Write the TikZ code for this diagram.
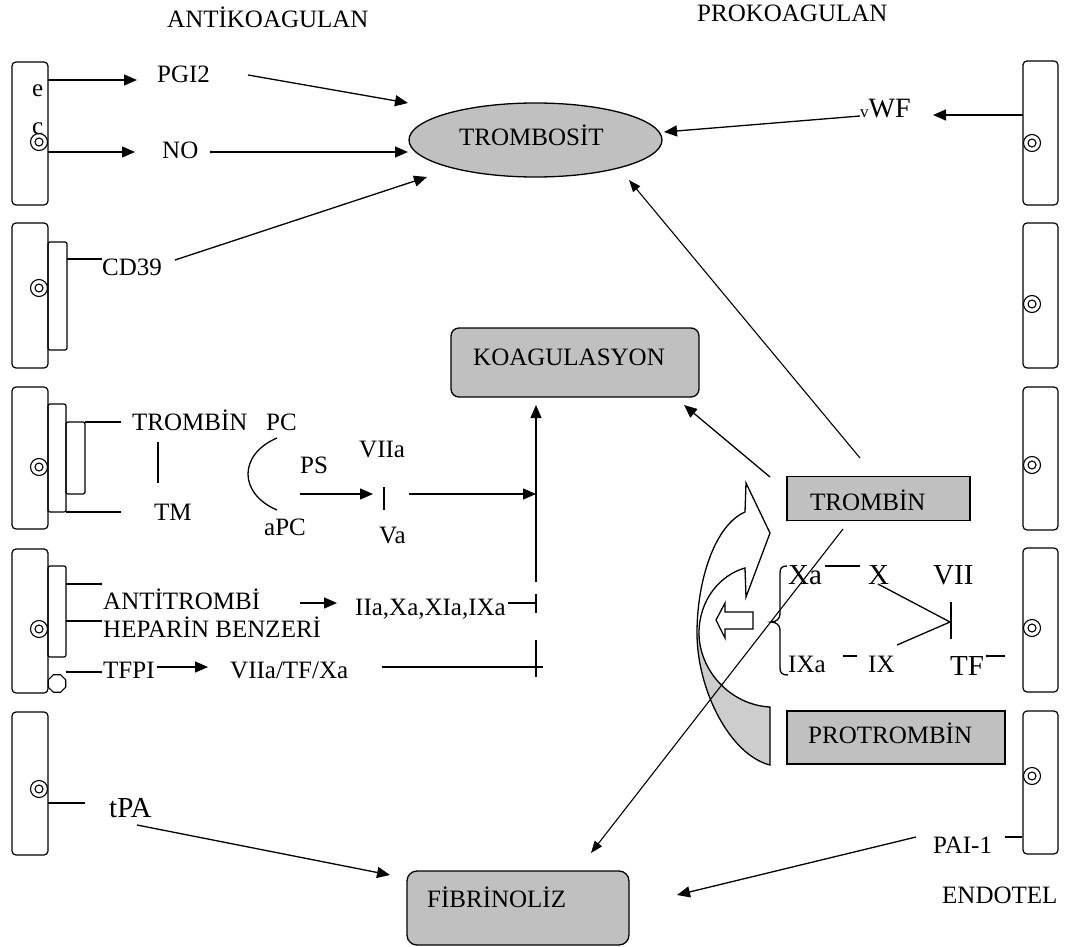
\documentclass[tikz,border=0pt]{standalone}
\usepackage{fontspec}
\setmainfont{Liberation Serif}
\usetikzlibrary{arrows.meta,shapes.geometric}
\definecolor{boxgray}{HTML}{C0C0C0}
\definecolor{ribbon}{HTML}{CDCDCD}
\begin{document}
\begin{tikzpicture}[x=1pt,y=-1pt,
  cell/.style={draw, line width=1.2pt, rounded corners=4pt, inner sep=0pt, minimum width=36pt},
  inrect/.style={draw, line width=1.2pt, rounded corners=2pt, inner sep=0pt},
  gbox/.style={draw, fill=boxgray, line width=1.3pt, inner sep=0pt},
  lbl/.style={inner sep=0pt, anchor=base west, font=\fontsize{25}{30}\selectfont},
  big/.style={inner sep=0pt, anchor=base west, font=\fontsize{29}{34}\selectfont},
  ln/.style={line width=1.3pt},
  arr/.style={line width=1.3pt, -{Triangle[length=13pt,width=11pt]}},
  tarr/.style={line width=1.1pt, -{Triangle[length=12pt,width=9pt]}},
  dco/.style={draw, circle, line width=1.1pt, minimum size=17pt, inner sep=0pt, fill=white},
  dci/.style={draw, circle, line width=1.1pt, minimum size=8pt, inner sep=0pt},
]
\useasboundingbox (0,0) rectangle (1071,947);

% ---------- curved ribbon arrow ----------
\fill[ribbon] (697,633) .. controls (697,690) and (730,755) .. (770,765) -- (770,707)
  .. controls (730,705) and (699,670) .. (699,633) -- cycle;
\draw[ln] (745,512) .. controls (715,525) and (697,580) .. (697,633)
  .. controls (697,690) and (730,755) .. (770,765) -- (770,707)
  .. controls (730,705) and (699,670) .. (699,633)
  .. controls (699,600) and (720,575) .. (745,568)
  -- (746,597) -- (770,533) -- (746,483) -- cycle;
\draw[ln, fill=white] (716,620) -- (725,603) -- (725,612) -- (753,612) -- (753,629)
  -- (725,629) -- (725,638) -- cycle;

% ---------- endothelial cells, left ----------
\node[cell, minimum height=143pt] (L1) at (30,133.5) {};
\node[cell, minimum height=145pt] (L2) at (30,295.5) {};
\node[cell, minimum height=142pt] (L3) at (30,458) {};
\node[cell, minimum height=144pt] (L4) at (30,621) {};
\node[cell, minimum height=143pt] (L5) at (30,783.5) {};
\node[inrect, minimum width=19pt, minimum height=108pt] (L2a) at (57.5,296) {};
\node[inrect, minimum width=18pt, minimum height=108pt] (L3a) at (57,458) {};
\node[inrect, minimum width=19pt, minimum height=72pt] (L3b) at (75.5,458) {};
\node[inrect, minimum width=18pt, minimum height=91pt] (L4a) at (57,611.5) {};
\node[draw, regular polygon, regular polygon sides=8, minimum size=19pt, inner sep=0pt,
  line width=1.1pt, fill=white] (oct) at (57,683.5) {};
\node[dco] (dl1) at (39,142) {}; \node[dci] at (dl1) {};
\node[dco] (dl2) at (39,288) {}; \node[dci] at (dl2) {};
\node[dco] (dl3) at (39,467) {}; \node[dci] at (dl3) {};
\node[dco] (dl4) at (39,629) {}; \node[dci] at (dl4) {};
\node[dco] (dl5) at (39,789) {}; \node[dci] at (dl5) {};

% ---------- endothelial cells, right ----------
\node[cell, minimum width=35pt, minimum height=144pt] (R1) at (1040.5,133) {};
\node[cell, minimum width=35pt, minimum height=145pt] (R2) at (1040.5,295.5) {};
\node[cell, minimum width=35pt, minimum height=143pt] (R3) at (1040.5,458.5) {};
\node[cell, minimum width=35pt, minimum height=144pt] (R4) at (1040.5,620) {};
\node[cell, minimum width=35pt, minimum height=143pt] (R5) at (1040.5,782.5) {};
\node[dco] (dr1) at (1032,143) {}; \node[dci] at (dr1) {};
\node[dco] (dr2) at (1032,304) {}; \node[dci] at (dr2) {};
\node[dco] (dr3) at (1032,465) {}; \node[dci] at (dr3) {};
\node[dco] (dr4) at (1032,628) {}; \node[dci] at (dr4) {};
\node[dco] (dr5) at (1032,776) {}; \node[dci] at (dr5) {};

% ---------- main boxes ----------
\node[gbox, ellipse, minimum width=253pt, minimum height=74pt] (trombosit) at (535.5,140) {};
\node[gbox, rounded corners=8pt, minimum width=248pt, minimum height=69pt] (koag) at (575,362.5) {};
\node[gbox, minimum width=183pt, minimum height=44pt] (trombin) at (878.5,498.5) {};
\node[gbox, minimum width=218pt, minimum height=53pt] (protrombin) at (896,737.5) {};
\node[gbox, rounded corners=10pt, minimum width=222pt, minimum height=74pt] (fibrinoliz) at (518,908) {};

% ---------- texts ----------
\node[lbl] (tAnti) at (167,28) {ANTİKOAGULAN};
\node[lbl] (tPro) at (697,22) {PROKOAGULAN};
\node[lbl] (tE) at (32,97) {e};
\node[lbl] (tC) at (32,135) {c};
\node[lbl] (tPGI) at (157,83) {PGI2};
\node[lbl] (tNO) at (162,159) {NO};
\node[lbl] (tCD) at (102,275) {CD39};
\node[lbl] (tTrombosit) at (459,146) {TROMBOSİT};
\node[inner sep=0pt, anchor=base west] (tvWF) at (860,118)
  {\fontsize{17}{20}\selectfont v\fontsize{28}{32}\selectfont WF};
\node[lbl] (tKoag) at (473,365) {KOAGULASYON};
\node[lbl] (tTrombinL) at (132,430) {TROMBİN};
\node[lbl] (tPC) at (266,430) {PC};
\node[lbl] (tTM) at (154,520) {TM};
\node[lbl] (tPS) at (300,473) {PS};
\node[lbl] (tVIIa) at (359,457) {VIIa};
\node[lbl] (taPC) at (264,535) {aPC};
\node[lbl] (tVa) at (379,543) {Va};
\node[lbl] (tAT) at (103,609) {ANTİTROMBİ};
\node[lbl] (tHep) at (103,637) {HEPARİN BENZERİ};
\node[lbl] (tIIa) at (355,615) {IIa,Xa,XIa,IXa};
\node[lbl] (tTFPI) at (103,678) {TFPI};
\node[lbl] (tVTX) at (230,678) {VIIa/TF/Xa};
\node[lbl] (tTrombin) at (810,510) {TROMBİN};
\node[big] (tXa) at (788,584) {Xa};
\node[big] (tX) at (868,584) {X};
\node[big] (tVII) at (933,584) {VII};
\node[lbl] (tIXa) at (788,672) {IXa};
\node[lbl] (tIX) at (868,672) {IX};
\node[big] (tTF) at (950,675) {TF};
\node[lbl] (tProt) at (808,743) {PROTROMBİN};
\node[big] (ttPA) at (109,817) {tPA};
\node[lbl] (tPAI) at (933,853) {PAI-1};
\node[lbl] (tFib) at (427,907) {FİBRİNOLİZ};
\node[lbl] (tEndo) at (942,903) {ENDOTEL};

% ---------- connector end points ----------
\coordinate (a1s) at (48,80);    \coordinate (a1e) at (137,80);
\coordinate (a2s) at (248,75);   \coordinate (a2e) at (408,103);
\coordinate (a3s) at (48,152);   \coordinate (a3e) at (135,152);
\coordinate (a4s) at (210,152);  \coordinate (a4e) at (408,152);
\coordinate (c1s) at (67,259);   \coordinate (c1e) at (102,259);
\coordinate (a5s) at (175,260);  \coordinate (a5e) at (427,177);
\coordinate (v1s) at (860,116);  \coordinate (v1e) at (664,132);
\coordinate (v2s) at (1023,115); \coordinate (v2e) at (933,115);
\coordinate (t1s) at (860,458);  \coordinate (t1e) at (629,180);
\coordinate (t2s) at (770,477);  \coordinate (t2e) at (684,405);
\coordinate (t3s) at (843,529);  \coordinate (t3e) at (591,853);
\coordinate (k1) at (536,405);   \coordinate (k2) at (536,582);
\coordinate (k3) at (536,594);   \coordinate (k4) at (536,613);
\coordinate (k5) at (536,640);   \coordinate (k6) at (536,677);
\coordinate (m1s) at (85,422);   \coordinate (m1e) at (121,422);
\coordinate (m2s) at (66,512);   \coordinate (m2e) at (121,512);
\coordinate (m3s) at (158,442);  \coordinate (m3e) at (158,483);
\coordinate (arcT) at (277,438); \coordinate (arcL) at (248,474); \coordinate (arcB) at (277,510);
\coordinate (p1s) at (300,494);  \coordinate (p1e) at (373,494);
\coordinate (b1s) at (384,487);  \coordinate (b1e) at (384,510);
\coordinate (p2s) at (409,494);  \coordinate (p2e) at (536,494);
\coordinate (h1s) at (66,584);   \coordinate (h1e) at (102,584);
\coordinate (h2s) at (66,621);   \coordinate (h2e) at (102,621);
\coordinate (h3s) at (300,603);  \coordinate (h3e) at (337,603);
\coordinate (h4s) at (508,603);  \coordinate (h4e) at (535,603);
\coordinate (f1s) at (66,672);   \coordinate (f1e) at (102,672);
\coordinate (f2s) at (157,667);  \coordinate (f2e) at (208,667);
\coordinate (f3s) at (382,667);  \coordinate (f3e) at (543,667);
\coordinate (x1s) at (825,566);  \coordinate (x1e) at (860,566);
\coordinate (x2s) at (878,584);  \coordinate (xj) at (950,622);
\coordinate (x3s) at (897,645);
\coordinate (xb1) at (951,602);  \coordinate (xb2) at (951,639);
\coordinate (x4s) at (843,656);  \coordinate (x4e) at (857,656);
\coordinate (x5s) at (986,656);  \coordinate (x5e) at (1005,656);
\coordinate (g1s) at (48,803);   \coordinate (g1e) at (85,803);
\coordinate (g2s) at (137,825);  \coordinate (g2e) at (390,875);
\coordinate (g3s) at (1005,837); \coordinate (g3e) at (1022,837);
\coordinate (g4s) at (916,837);  \coordinate (g4e) at (677,895);

% ---------- connectors ----------
\draw[arr] (a1s) -- (a1e);
\draw[arr] (a2s) -- (a2e);
\draw[arr] (a3s) -- (a3e);
\draw[arr] (a4s) -- (a4e);
\draw[ln] (c1s) -- (c1e);
\draw[arr] (a5s) -- (a5e);
\draw[arr] (v1s) -- (v1e);
\draw[arr] (v2s) -- (v2e);
\draw[tarr] (t1s) -- (t1e);
\draw[arr] (t2s) -- (t2e);
\draw[tarr] (t3s) -- (t3e);
\draw[arr] (k2) -- (k1);
\draw[ln] (k3) -- (k4);
\draw[ln] (k5) -- (k6);
\draw[ln] (m1s) -- (m1e);
\draw[ln] (m2s) -- (m2e);
\draw[ln] (m3s) -- (m3e);
\draw[ln] (arcT) .. controls (258,446) and (248,460) .. (arcL)
  .. controls (248,488) and (258,502) .. (arcB);
\draw[arr] (p1s) -- (p1e);
\draw[ln] (b1s) -- (b1e);
\draw[arr] (p2s) -- (p2e);
\draw[ln] (h1s) -- (h1e);
\draw[ln] (h2s) -- (h2e);
\draw[arr] (h3s) -- (h3e);
\draw[ln] (h4s) -- (h4e);
\draw[ln] (f1s) -- (f1e);
\draw[arr] (f2s) -- (f2e);
\draw[ln] (f3s) -- (f3e);
\draw[ln] (x1s) -- (x1e);
\draw[ln] (x2s) -- (xj);
\draw[ln] (x3s) -- (xj);
\draw[ln] (xb1) -- (xb2);
\draw[ln] (x4s) -- (x4e);
\draw[ln] (x5s) -- (x5e);
\draw[ln] (787,566) .. controls (782,566) and (780,568) .. (780,573) -- (780,614)
  .. controls (780,619) and (776,622) .. (771,622)
  .. controls (776,622) and (780,625) .. (780,630) -- (780,668)
  .. controls (780,673) and (782,675) .. (788,675);
\draw[ln] (g1s) -- (g1e);
\draw[arr] (g2s) -- (g2e);
\draw[ln] (g3s) -- (g3e);
\draw[arr] (g4s) -- (g4e);
\end{tikzpicture}
\end{document}
